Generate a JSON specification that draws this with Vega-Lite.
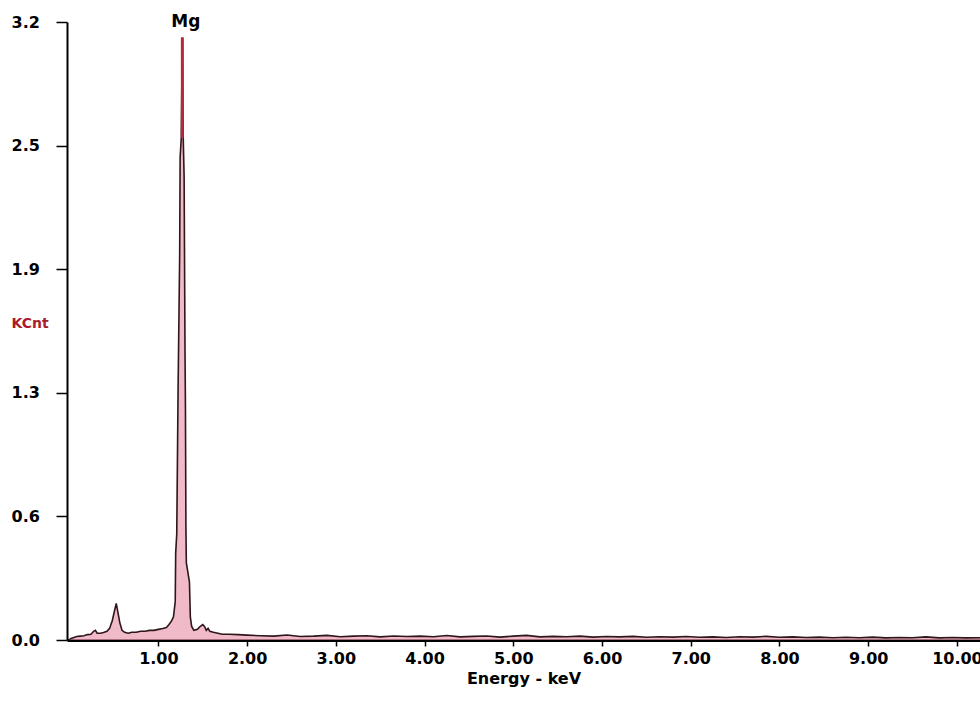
{
  "$schema": "https://vega.github.io/schema/vega-lite/v6.json",
  "width": 913,
  "height": 618,
  "autosize": {"type": "none"},
  "padding": {"left": 67, "top": 22, "right": 0, "bottom": 62},
  "background": "white",
  "config": {"view": {"stroke": null}, "font": "DejaVu Sans"},
  "datasets": {
    "spectrum": [
      {"energy": 0.00, "kcnt": 0.005},
      {"energy": 0.04, "kcnt": 0.012},
      {"energy": 0.08, "kcnt": 0.018},
      {"energy": 0.12, "kcnt": 0.02},
      {"energy": 0.16, "kcnt": 0.022},
      {"energy": 0.20, "kcnt": 0.028},
      {"energy": 0.24, "kcnt": 0.03},
      {"energy": 0.27, "kcnt": 0.045},
      {"energy": 0.29, "kcnt": 0.05},
      {"energy": 0.31, "kcnt": 0.035},
      {"energy": 0.35, "kcnt": 0.035},
      {"energy": 0.39, "kcnt": 0.04},
      {"energy": 0.42, "kcnt": 0.045},
      {"energy": 0.45, "kcnt": 0.06},
      {"energy": 0.48, "kcnt": 0.1},
      {"energy": 0.505, "kcnt": 0.15},
      {"energy": 0.525, "kcnt": 0.19},
      {"energy": 0.545, "kcnt": 0.14},
      {"energy": 0.565, "kcnt": 0.09},
      {"energy": 0.59, "kcnt": 0.05},
      {"energy": 0.62, "kcnt": 0.04},
      {"energy": 0.66, "kcnt": 0.035},
      {"energy": 0.70, "kcnt": 0.04},
      {"energy": 0.75, "kcnt": 0.04},
      {"energy": 0.80, "kcnt": 0.045},
      {"energy": 0.85, "kcnt": 0.045},
      {"energy": 0.90, "kcnt": 0.05},
      {"energy": 0.95, "kcnt": 0.05},
      {"energy": 1.00, "kcnt": 0.055},
      {"energy": 1.05, "kcnt": 0.06},
      {"energy": 1.09, "kcnt": 0.065},
      {"energy": 1.12, "kcnt": 0.08},
      {"energy": 1.15, "kcnt": 0.1},
      {"energy": 1.17, "kcnt": 0.12},
      {"energy": 1.19, "kcnt": 0.2},
      {"energy": 1.195, "kcnt": 0.45},
      {"energy": 1.207, "kcnt": 0.55},
      {"energy": 1.222, "kcnt": 1.3},
      {"energy": 1.24, "kcnt": 2.0},
      {"energy": 1.245, "kcnt": 2.5},
      {"energy": 1.258, "kcnt": 2.6},
      {"energy": 1.27, "kcnt": 3.12},
      {"energy": 1.28, "kcnt": 2.6},
      {"energy": 1.29, "kcnt": 2.4},
      {"energy": 1.30, "kcnt": 1.5},
      {"energy": 1.305, "kcnt": 1.2},
      {"energy": 1.31, "kcnt": 0.6},
      {"energy": 1.315, "kcnt": 0.4},
      {"energy": 1.35, "kcnt": 0.3},
      {"energy": 1.36, "kcnt": 0.12},
      {"energy": 1.375, "kcnt": 0.07},
      {"energy": 1.40, "kcnt": 0.05},
      {"energy": 1.44, "kcnt": 0.055},
      {"energy": 1.47, "kcnt": 0.07},
      {"energy": 1.50, "kcnt": 0.08},
      {"energy": 1.52, "kcnt": 0.07},
      {"energy": 1.54, "kcnt": 0.05},
      {"energy": 1.56, "kcnt": 0.06},
      {"energy": 1.58, "kcnt": 0.045},
      {"energy": 1.62, "kcnt": 0.04},
      {"energy": 1.67, "kcnt": 0.035},
      {"energy": 1.72, "kcnt": 0.03},
      {"energy": 1.80, "kcnt": 0.03},
      {"energy": 1.90, "kcnt": 0.028},
      {"energy": 2.00, "kcnt": 0.025},
      {"energy": 2.15, "kcnt": 0.022},
      {"energy": 2.30, "kcnt": 0.02},
      {"energy": 2.45, "kcnt": 0.026},
      {"energy": 2.60, "kcnt": 0.018},
      {"energy": 2.75, "kcnt": 0.02},
      {"energy": 2.90, "kcnt": 0.024},
      {"energy": 3.05, "kcnt": 0.017},
      {"energy": 3.20, "kcnt": 0.02},
      {"energy": 3.35, "kcnt": 0.022},
      {"energy": 3.50, "kcnt": 0.016},
      {"energy": 3.65, "kcnt": 0.021},
      {"energy": 3.80, "kcnt": 0.018},
      {"energy": 3.95, "kcnt": 0.02},
      {"energy": 4.10, "kcnt": 0.017},
      {"energy": 4.25, "kcnt": 0.023},
      {"energy": 4.40, "kcnt": 0.016},
      {"energy": 4.55, "kcnt": 0.019},
      {"energy": 4.70, "kcnt": 0.021},
      {"energy": 4.85, "kcnt": 0.015},
      {"energy": 5.00, "kcnt": 0.02},
      {"energy": 5.15, "kcnt": 0.024},
      {"energy": 5.30, "kcnt": 0.016},
      {"energy": 5.45, "kcnt": 0.019},
      {"energy": 5.60, "kcnt": 0.017},
      {"energy": 5.75, "kcnt": 0.02},
      {"energy": 5.90, "kcnt": 0.015},
      {"energy": 6.05, "kcnt": 0.018},
      {"energy": 6.20, "kcnt": 0.016},
      {"energy": 6.35, "kcnt": 0.019},
      {"energy": 6.50, "kcnt": 0.014},
      {"energy": 6.65, "kcnt": 0.017},
      {"energy": 6.80, "kcnt": 0.015},
      {"energy": 6.95, "kcnt": 0.018},
      {"energy": 7.10, "kcnt": 0.014},
      {"energy": 7.25, "kcnt": 0.016},
      {"energy": 7.40, "kcnt": 0.013},
      {"energy": 7.55, "kcnt": 0.017},
      {"energy": 7.70, "kcnt": 0.015},
      {"energy": 7.85, "kcnt": 0.019},
      {"energy": 8.00, "kcnt": 0.014},
      {"energy": 8.15, "kcnt": 0.016},
      {"energy": 8.30, "kcnt": 0.013},
      {"energy": 8.45, "kcnt": 0.015},
      {"energy": 8.60, "kcnt": 0.012},
      {"energy": 8.75, "kcnt": 0.014},
      {"energy": 8.90, "kcnt": 0.012},
      {"energy": 9.05, "kcnt": 0.015},
      {"energy": 9.20, "kcnt": 0.011},
      {"energy": 9.35, "kcnt": 0.013},
      {"energy": 9.50, "kcnt": 0.012},
      {"energy": 9.65, "kcnt": 0.016},
      {"energy": 9.80, "kcnt": 0.011},
      {"energy": 9.95, "kcnt": 0.013},
      {"energy": 10.10, "kcnt": 0.011},
      {"energy": 10.26, "kcnt": 0.012}
    ],
    "marker": [
      {"energy": 1.27, "lo": 2.6, "hi": 3.12}
    ],
    "peaks": [
      {"energy": 1.31, "kcnt": 3.2, "label": "Mg"}
    ]
  },
  "layer": [
    {
      "data": {"name": "spectrum"},
      "mark": {"type": "area", "color": "#eb9db2", "clip": true, "line": {"color": "#2e161b", "strokeWidth": 1.6}},
      "encoding": {
        "x": {
          "field": "energy", "type": "quantitative",
          "scale": {"domain": [-0.03, 10.26], "nice": false, "zero": false},
          "axis": {
            "values": [1, 2, 3, 4, 5, 6, 7, 8, 9, 10],
            "format": ".2f",
            "grid": false,
            "domainColor": "black", "domainWidth": 3,
            "tickColor": "black", "tickSize": 6, "tickWidth": 1.5,
            "labelFont": "DejaVu Sans", "labelFontWeight": "bold", "labelFontSize": 16, "labelColor": "black",
            "labelPadding": 4, "labelFlush": false, "labelOverlap": false,
            "title": "Energy - keV",
            "titleFont": "DejaVu Sans", "titleFontWeight": "bold", "titleFontSize": 16, "titleColor": "black",
            "titlePadding": 4
          }
        },
        "y": {
          "field": "kcnt", "type": "quantitative",
          "scale": {"domain": [0, 3.2], "nice": false},
          "axis": {
            "values": [0, 0.64, 1.28, 1.92, 2.56, 3.2],
            "labelExpr": "['0.0','0.6','1.3','1.9','2.5','3.2'][round(datum.value/0.64)]",
            "grid": false,
            "domainColor": "black", "domainWidth": 2,
            "tickColor": "black", "tickSize": 11, "tickWidth": 1.5,
            "labelFont": "DejaVu Sans", "labelFontWeight": "bold", "labelFontSize": 16, "labelColor": "black",
            "labelAlign": "left", "labelPadding": 45, "labelBaseline": "middle",
            "title": "KCnt",
            "titleFont": "DejaVu Sans", "titleFontWeight": "bold", "titleFontSize": 14, "titleColor": "#a81c2c",
            "titleAngle": 0, "titleAlign": "left", "titleBaseline": "middle",
            "titleX": -56, "titleY": 301
          }
        }
      }
    },
    {
      "data": {"name": "marker"},
      "mark": {"type": "rule", "color": "#b8283c", "strokeWidth": 3},
      "encoding": {
        "x": {"field": "energy", "type": "quantitative"},
        "y": {"field": "lo", "type": "quantitative"},
        "y2": {"field": "hi"}
      }
    },
    {
      "data": {"name": "peaks"},
      "mark": {"type": "text", "font": "DejaVu Sans", "fontWeight": "bold", "fontSize": 17, "color": "black", "baseline": "middle", "align": "center"},
      "encoding": {
        "x": {"field": "energy", "type": "quantitative"},
        "y": {"field": "kcnt", "type": "quantitative"},
        "text": {"field": "label"}
      }
    }
  ]
}
